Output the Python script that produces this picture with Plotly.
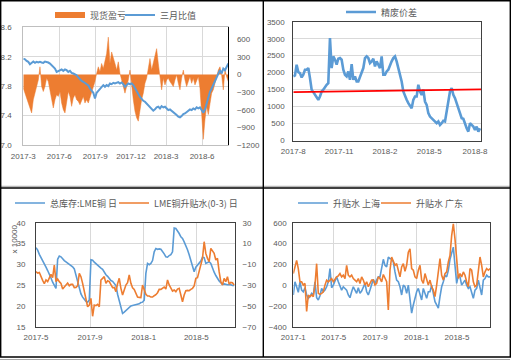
import pandas as pd
import plotly.graph_objects as go

W, H = 513, 362


def px(x):
    return x / W


def py(y):
    return 1 - y / H


# ---------------- Panel 1: 现货盈亏 / 三月比值 ----------------
p1_start, p1_end = "2017-03-01", "2018-08-07"
p1_spot_pnl = [
    -235, -319, -375, -487, -571, -655, -431, -291, -207, -95,
    129, -207, -291, -207, -67, -123, -263, -431, -571, -431,
    -347, -375, -291, -487, -599, -655, -459, -291, -375, -543,
    -403, -347, -431, -459, -515, -459, -375, -487, -431, -487,
    -403, -319, -235, -123, 17, 129, 45, 185, 101, 241,
    353, 633, 185, 381, 297, 185, 73, 213, 17, -95,
    -179, -319, -207, -95, 73, -207, -431, -627, -739, -795,
    -599, -431, -319, -151, -67, 129, 269, 73, 185, 297,
    437, 185, -67, -263, -67, -179, -95, -67, -123, -179,
    -207, -95, -11, -151, -263, -67, 73, -95, -207, -123,
    -39, -151, -67, -179, -123, -39, -235, -655, -1103, -767,
    -543, -683, -487, -319, -263, -151, -39, 73, 129, -11,
    -263, 73, -39, -123,
]
p1_ratio = [
    8.175, 8.166, 8.143, 8.130, 8.098, 8.116, 8.134, 8.116, 8.130, 8.121,
    8.130, 8.121, 8.116, 8.134, 8.130, 8.121, 8.107, 8.085, 8.076, 8.040,
    7.994, 8.008, 8.017, 8.026, 8.008, 8.026, 8.017, 7.994, 8.008, 7.981,
    7.972, 7.958, 7.949, 7.918, 7.890, 7.872, 7.859, 7.845, 7.827, 7.809,
    7.768, 7.737, 7.710, 7.633, 7.710, 7.737, 7.768, 7.791, 7.814, 7.791,
    7.814, 7.800, 7.836, 7.827, 7.845, 7.836, 7.850, 7.854, 7.836, 7.850,
    7.827, 7.791, 7.814, 7.836, 7.827, 7.836, 7.814, 7.768, 7.723, 7.692,
    7.655, 7.619, 7.601, 7.588, 7.565, 7.542, 7.511, 7.484, 7.466, 7.484,
    7.511, 7.520, 7.497, 7.529, 7.511, 7.520, 7.497, 7.475, 7.484, 7.466,
    7.452, 7.429, 7.407, 7.384, 7.375, 7.393, 7.420, 7.429, 7.452, 7.475,
    7.484, 7.475, 7.497, 7.484, 7.511, 7.497, 7.511, 7.475, 7.438, 7.484,
    7.565, 7.633, 7.723, 7.768, 7.814, 7.859, 7.904, 7.949, 8.017, 7.972,
    8.040, 8.017, 8.062, 8.107,
]
p1_tickvals = ["2017-03-01", "2017-06-01", "2017-09-01", "2017-12-01", "2018-03-01", "2018-06-01"]
p1_ticktext = ["2017-3", "2017-6", "2017-9", "2017-12", "2018-3", "2018-6"]

# ---------------- Panel 2: 精废价差 ----------------
p2_start, p2_end, p2_axis_end = "2017-08-01", "2018-08-11", "2018-08-13"
p2_spread = [
    1889, 1919, 2234, 2017, 1988, 1860, 1938, 2086, 2086, 2135,
    1840, 1496, 1427, 1348, 1279, 1200, 1299, 1446, 1496, 1594,
    1643, 1692, 3021, 2135, 2480, 2381, 2234, 2411, 2430, 2381,
    2086, 1938, 1889, 2037, 1791, 2253, 1791, 1889, 1742, 1742,
    1889, 1988, 2135, 2430, 2480, 2430, 2283, 2332, 2411, 2184,
    2332, 2234, 2135, 2480, 1938, 1938, 2037, 2086, 2234, 2332,
    2430, 2480, 2332, 2135, 1938, 1742, 1446, 1299, 1200, 1102,
    1004, 954, 1200, 1299, 1299, 1643, 1446, 1348, 1496, 1151,
    1053, 807, 708, 659, 610, 561, 512, 561, 462, 512,
    581, 561, 905, 1200, 1446, 1545, 1348, 1250, 1102, 954,
    777, 659, 640, 462, 364, 266, 512, 462, 413, 315,
    413, 266, 364,
]
p2_trend_dates = ["2017-08-01", "2018-08-13"]
p2_trend = [1425, 1505]
p2_tickvals = ["2017-08-01", "2017-11-01", "2018-02-01", "2018-05-01", "2018-08-01"]
p2_ticktext = ["2017-8", "2017-11", "2018-2", "2018-5", "2018-8"]

# ---------------- Panel 3: LME ----------------
p3_start, p3_end, p3_axis_end = "2017-05-01", "2018-07-26", "2018-07-28"
p3_stock = [
    34.0, 33.4, 32.4, 31.7, 30.9, 30.2, 29.3, 28.5, 27.7, 26.7,
    25.7, 24.9, 24.2, 31.2, 32.0, 31.8, 31.3, 30.9, 30.6, 30.3,
    30.1, 29.9, 29.4, 28.9, 27.4, 25.4, 23.8, 22.9, 22.1, 21.6,
    21.1, 20.9, 21.4, 31.1, 31.0, 30.5, 30.1, 29.8, 29.4, 29.1,
    28.8, 28.1, 27.5, 27.1, 26.6, 26.1, 25.9, 25.4, 24.9, 22.8,
    21.2, 19.8, 18.2, 18.5, 18.9, 19.3, 19.7, 20.0, 20.1, 20.2,
    20.3, 20.4, 20.5, 20.8, 20.9, 21.4, 27.8, 30.2, 29.9, 30.2,
    30.9, 33.0, 33.8, 33.6, 33.7, 33.6, 33.1, 32.5, 31.8, 31.7,
    32.1, 32.3, 33.0, 38.7, 38.6, 38.1, 37.4, 36.6, 36.2, 35.4,
    34.6, 33.5, 32.3, 30.9, 29.3, 28.2, 29.3, 29.8, 30.1, 30.8,
    31.7, 31.6, 30.2, 30.5, 30.6, 30.2, 29.0, 28.1, 27.3, 26.5,
    26.0, 25.6, 25.2, 25.3, 25.1, 25.1, 25.1, 25.1, 24.9, 24.9,
]
p3_spread = [
    -17.1, -18.4, -17.8, -22.2, -25.4, -28.7, -25.1, -26.7, -23.5, -19.7,
    -22.9, -10.7, -26.7, -24.2, -26.7, -28.3, -33.8, -31.5, -29.6, -28.0,
    -30.6, -29.3, -29.3, -32.5, -32.2, -30.6, -18.7, -21.9, -28.3, -36.3,
    -42.1, -50.8, -49.2, -42.8, -60.0, -49.2, -49.8, -48.5, -50.8, -25.1,
    -23.5, -21.9, -28.3, -25.8, -26.7, -29.0, -32.5, -32.2, -36.3, -28.7,
    -23.5, -33.1, -39.5, -34.7, -29.9, -27.7, -20.3, -28.3, -32.5, -34.1,
    -37.6, -41.5, -41.8, -42.1, -29.9, -34.1, -38.9, -40.5, -40.5, -41.5,
    -41.5, -40.2, -39.2, -37.3, -34.1, -34.1, -32.5, -31.9, -33.8, -25.1,
    -29.9, -33.1, -35.7, -34.7, -36.3, -33.8, -33.1, -39.5, -46.0, -39.5,
    -35.4, -35.1, -35.4, -34.1, -33.1, -30.9, -23.5, -22.9, -16.5, -9.1,
    -4.3, 11.7, 0.5, -4.3, -7.5, 5.3, 2.8, 0.5, -5.9, -4.3,
    -17.1, -26.7, -29.9, -23.5, -26.7, -21.9, -29.0, -27.4, -27.7, -29.9,
]
p3_tickvals = ["2017-05-01", "2017-09-01", "2018-01-01", "2018-05-01"]
p3_ticktext = ["2017-5", "2017-9", "2018-1", "2018-5"]

# ---------------- Panel 4: 升贴水 ----------------
p4_start, p4_end = "2017-01-01", "2018-08-07"
p4_shanghai = [
    -95, 32, -16, -70, 32, -48, -64, -25, -95, -127,
    -111, -79, -95, 32, -121, -143, -102, -32, -64, -48,
    -16, 32, 159, -25, 0, 48, 79, 32, -16, -48,
    -16, -32, -48, -95, -121, -64, -16, -48, -79, -25,
    -79, -57, -16, 16, -64, -95, -48, 9, 57, 16,
    48, 79, 79, 159, 248, 190, 175, 270, 254, 254,
    222, 127, 48, 32, -16, -95, 0, -16, -79, 0,
    -111, -270, -191, -127, -64, -32, -79, -143, -32, -79,
    -127, -64, -64, 0, -79, -159, -191, -222, -111, -16,
    32, 95, 79, 143, 248, 317, 365, 190, 16, 95,
    79, 0, 32, 48, 0, -32, -16, -79, -127, -48,
    -32, 48, -16, -95, 48, 63, 95, 79, 79,
]
p4_guangdong = [
    111, 190, 238, 159, 32, 32, 0, 16, -254, -95,
    -111, -95, -111, 0, 206, -79, -89, -79, -64, 0,
    48, 32, 48, 63, 32, 63, 79, 89, 111, 79,
    95, 63, 190, 95, 79, 95, 63, 48, 32, 63,
    16, 79, 48, 0, 32, -16, 16, 48, 48, 0,
    16, 79, 63, 32, 102, 63, 32, -238, 143, 270,
    222, 190, 206, 127, 79, 175, 206, 133, 190, 317,
    349, 159, 143, 79, 63, 143, 190, 48, 16, 111,
    63, 0, 48, -16, -48, -111, 0, 111, 254, 95,
    48, 111, 127, 222, 286, 476, 590, 444, 254, 63,
    111, 79, 127, 95, 32, -16, 159, 143, 32, -16,
    0, 143, 270, 190, 79, 127, 159, 143, 159,
]
p4_tickvals = ["2017-01-01", "2017-05-01", "2017-09-01", "2018-01-01", "2018-05-01"]
p4_ticktext = ["2017-1", "2017-5", "2017-9", "2018-1", "2018-5"]

BLUE = "#5B9BD5"
ORANGE = "#ED7D31"
RED = "#FF0000"
GRID = "#D9D9D9"
FRAME = "#404040"
TXT = "#595959"
TICKF = dict(family="Liberation Sans, Arial, sans-serif", size=8, color=TXT)
LEGF = dict(family="Noto Sans CJK SC, sans-serif", size=9, color=TXT)


def dates(start, end, n):
    return pd.date_range(start, end, periods=n)


fig = go.Figure()

# Panel 1
fig.add_trace(go.Scatter(
    x=dates(p1_start, p1_end, len(p1_spot_pnl)), y=p1_spot_pnl, name="现货盈亏",
    mode="lines", fill="tozeroy", fillcolor=ORANGE, line=dict(color=ORANGE, width=0.5),
    xaxis="x", yaxis="y", showlegend=False,
))
fig.add_trace(go.Scatter(
    x=[None], y=[None], mode="lines", name="现货盈亏", line=dict(color=ORANGE, width=6),
    xaxis="x", yaxis="y", legend="legend",
))
fig.add_trace(go.Scatter(
    x=dates(p1_start, p1_end, len(p1_ratio)), y=p1_ratio, mode="lines", name="三月比值",
    line=dict(color=BLUE, width=2), xaxis="x", yaxis="y2", legend="legend2",
))

# Panel 2
fig.add_trace(go.Scatter(
    x=dates(p2_start, p2_end, len(p2_spread)), y=p2_spread, mode="lines", name="精废价差",
    line=dict(color=BLUE, width=2.6), xaxis="x2", yaxis="y3", legend="legend3",
))
fig.add_trace(go.Scatter(
    x=p2_trend_dates, y=p2_trend, mode="lines", name="趋势",
    line=dict(color=RED, width=1.8), xaxis="x2", yaxis="y3", showlegend=False,
))

# Panel 3
fig.add_trace(go.Scatter(
    x=dates(p3_start, p3_end, len(p3_stock)), y=p3_stock, mode="lines", name="总库存:LME铜 日",
    line=dict(color=BLUE, width=1.6), xaxis="x3", yaxis="y4", legend="legend4",
))
fig.add_trace(go.Scatter(
    x=dates(p3_start, p3_end, len(p3_spread)), y=p3_spread, mode="lines", name="LME铜升贴水(0-3) 日",
    line=dict(color=ORANGE, width=1.6), xaxis="x3", yaxis="y5", legend="legend5",
))

# Panel 4
fig.add_trace(go.Scatter(
    x=dates(p4_start, p4_end, len(p4_shanghai)), y=p4_shanghai, mode="lines", name="升贴水 上海",
    line=dict(color=BLUE, width=1.6), xaxis="x4", yaxis="y6", legend="legend6",
))
fig.add_trace(go.Scatter(
    x=dates(p4_start, p4_end, len(p4_guangdong)), y=p4_guangdong, mode="lines", name="升贴水 广东",
    line=dict(color=ORANGE, width=1.6), xaxis="x4", yaxis="y6", legend="legend7",
))


def xax(domain, anchor, rng, tv, tt, grid=True, linecolor=FRAME):
    return dict(domain=domain, anchor=anchor, type="date", range=rng, tickvals=tv, ticktext=tt,
                showgrid=grid, gridcolor=GRID, gridwidth=1, showline=True, linecolor=linecolor,
                linewidth=1, mirror=True, ticks="", tickfont=TICKF, zeroline=False,
                ticklabelstandoff=3, fixedrange=True)


def yax(domain, anchor, rng, tv, side="left", grid=True, linecolor=FRAME, mirror=True, standoff=5, fmt=None):
    d = dict(anchor=anchor, range=rng, tickvals=tv, side=side, showgrid=grid, gridcolor=GRID,
             gridwidth=1, showline=True, linecolor=linecolor, linewidth=1, mirror=mirror,
             ticks="", tickfont=TICKF, zeroline=False, ticklabelstandoff=standoff, fixedrange=True)
    if domain is not None:
        d["domain"] = domain
    if fmt:
        d["tickformat"] = fmt
    return d


d1x = [px(23.3), px(228.3)]
d1y = [py(145), py(27.3)]
d2x = [px(293.3), px(481)]
d2y = [py(140.6), py(21.7)]
d3x = [px(36), px(235)]
d3y = [py(326.7), py(222.7)]
d4x = [px(293.3), px(490)]
d4y = [py(326.7), py(222.7)]

legend_common = dict(orientation="h", font=LEGF, bgcolor="rgba(0,0,0,0)", borderwidth=0,
                     xanchor="left", yanchor="middle", itemclick=False, itemdoubleclick=False)
LEG_OFF = 40

fig.update_layout(
    width=W, height=H, margin=dict(l=0, r=0, t=0, b=0, autoexpand=False),
    paper_bgcolor="white", plot_bgcolor="rgba(0,0,0,0)",
    font=dict(family="Noto Sans CJK SC, Liberation Sans, sans-serif", color=TXT),
    xaxis=xax(d1x, "y", [p1_start, p1_end], p1_tickvals, p1_ticktext, linecolor="#BFBFBF"),
    yaxis=yax(d1y, "x", [-1200, 800], [-1200, -900, -600, -300, 0, 300, 600], side="right",
              grid=False, linecolor="black", mirror=False, standoff=6),
    yaxis2=dict(yax(None, "x", [7.0, 8.6], [7.0, 7.4, 7.8, 8.2, 8.6], side="left",
                    linecolor="#BFBFBF", mirror=False, standoff=9, fmt=".1f"), overlaying="y"),
    xaxis2=xax(d2x, "y3", [p2_start, p2_axis_end], p2_tickvals, p2_ticktext, grid=False),
    yaxis3=yax(d2y, "x2", [0, 3500], [0, 500, 1000, 1500, 2000, 2500, 3000, 3500], standoff=6),
    xaxis3=xax(d3x, "y4", [p3_start, p3_axis_end], p3_tickvals, p3_ticktext),
    yaxis4=yax(d3y, "x3", [15, 40], [15, 20, 25, 30, 35, 40], standoff=8),
    yaxis5=dict(yax(None, "x3", [-70, 30], [-70, -50, -30, -10, 10, 30], side="right", grid=False,
                    mirror=False, standoff=5), overlaying="y4"),
    xaxis4=xax(d4x, "y6", [p4_start, p4_end], p4_tickvals, p4_ticktext),
    yaxis6=yax(d4y, "x4", [-400, 600], [-400, -200, 0, 200, 400, 600], standoff=4),
    legend=dict(legend_common, x=px(90 - LEG_OFF), y=py(15)),
    legend2=dict(legend_common, x=px(160 - LEG_OFF), y=py(15)),
    legend3=dict(legend_common, x=px(381 - LEG_OFF), y=py(12)),
    legend4=dict(legend_common, x=px(50 - LEG_OFF), y=py(203)),
    legend5=dict(legend_common, x=px(154 - LEG_OFF), y=py(203)),
    legend6=dict(legend_common, x=px(333 - LEG_OFF), y=py(203)),
    legend7=dict(legend_common, x=px(416 - LEG_OFF), y=py(203)),
    annotations=[dict(text="x 10000", x=px(7), y=py(239), xref="paper", yref="paper",
                      showarrow=False, textangle=-90, font=TICKF)],
    shapes=[
        dict(type="line", xref="paper", yref="paper", x0=px(0), x1=px(510), y0=py(359.5), y1=py(359.5),
             line=dict(color="#A6A6A6", width=1)),
        dict(type="line", xref="paper", yref="paper", x0=px(0), x1=px(510), y0=py(186.3), y1=py(186.3),
             line=dict(color="#A6A6A6", width=1)),
        dict(type="rect", xref="paper", yref="paper", x0=px(0.7), x1=px(510.3), y0=py(357), y1=py(0.7),
             line=dict(color="black", width=1.4)),
        dict(type="line", xref="paper", yref="paper", x0=px(263.3), x1=px(263.3), y0=py(0), y1=py(357),
             line=dict(color="black", width=1.4)),
        dict(type="line", xref="paper", yref="paper", x0=px(0), x1=px(510.3), y0=py(188), y1=py(188),
             line=dict(color="black", width=1.4)),
    ],
)

fig.write_html(
    "out.html",
    config={"displayModeBar": False, "staticPlot": False},
    post_script="document.body.style.margin='0px';document.body.style.padding='0px';",
)
